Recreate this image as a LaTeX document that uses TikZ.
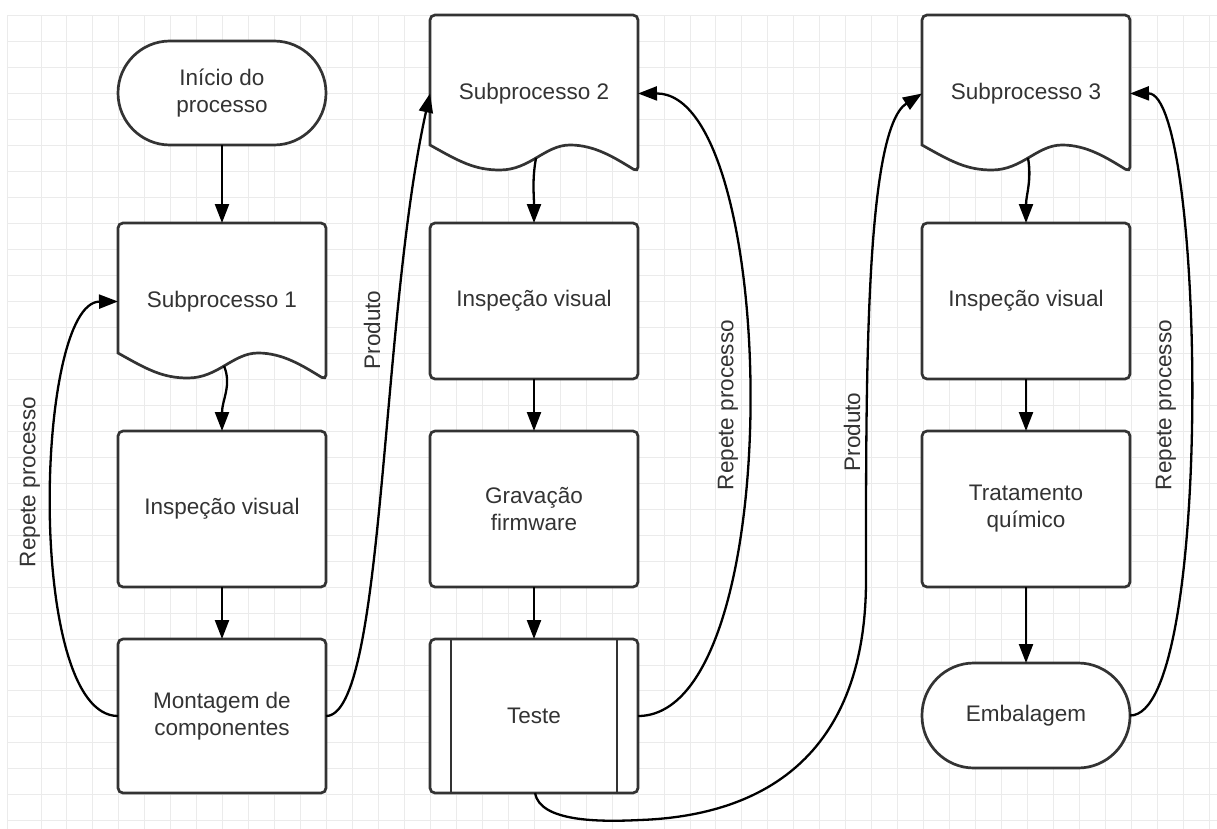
\documentclass[tikz,border=0pt]{standalone}
\usepackage{fontspec}
\setmainfont{Liberation Sans}
\usetikzlibrary{arrows.meta}
\definecolor{gridc}{HTML}{EBEBEB}
\definecolor{boxc}{HTML}{333333}
\definecolor{txtc}{HTML}{333333}
\newcommand{\docnode}[4]{%
  \draw[box] (#2,#3+130) [rounded corners=5pt] -- (#2,#3) -- (#2+208,#3) -- (#2+208,#3+157) [sharp corners]
    .. controls (#2+185,#3+143) and (#2+165,#3+130) .. (#2+140,#3+130)
    .. controls (#2+115,#3+130) and (#2+100,#3+155) .. (#2+70,#3+155)
    .. controls (#2+45,#3+155) and (#2+30,#3+147) .. (#2,#3+130) -- cycle;
  \node[txt, minimum width=208pt, minimum height=157pt, anchor=north west] (#1) at (#2,#3) {#4};
  \coordinate (#1b) at (#2+106,#3+143);
}
\tikzset{
  box/.style={draw=boxc, line width=2.7pt, fill=white, rounded corners=5pt},
  txt/.style={text=txtc, font=\fontsize{22.5}{27}\selectfont, align=center, outer sep=0pt, inner sep=0pt},
  rbox/.style={box, txt, minimum width=208pt, minimum height=156pt},
  term/.style={draw=boxc, line width=2.7pt, fill=white, rounded corners=52pt, txt, minimum width=208pt, minimum height=104pt},
  conn/.style={draw=black, line width=2.3pt, -{Triangle[length=19pt,width=14pt]}},
  lbl/.style={txt, rotate=90},
  gridl/.style={draw=gridc, line width=1pt}
}
\begin{document}
\begin{tikzpicture}[x=1pt,y=-1pt]
\fill[white] (0,0) rectangle (1217,829);
\useasboundingbox (0,0) rectangle (1217,829);
% grid
\draw[gridl] (7,16) -- (7,829);
\foreach \i in {0,...,45} \draw[gridl] ({41+25.96*\i},16) -- ({41+25.96*\i},829);
\foreach \j in {0,...,31} \draw[gridl] (7,{16+25.96*\j}) -- (1217,{16+25.96*\j});

% column 1
\node[term] (start) at (222,93) {Início do\\processo};
\docnode{sub1}{118}{223}{Subprocesso 1}
\node[rbox] (insp1) at (222,509) {Inspeção visual};
\node[rbox, minimum height=154pt] (mont) at (222,716) {Montagem de\\componentes};

% column 2
\docnode{sub2}{430}{15}{Subprocesso 2}
\node[rbox] (insp2) at (534,301) {Inspeção visual};
\node[rbox] (grav) at (534,509) {Gravação\\firmware};
\node[rbox, minimum height=154pt] (teste) at (534,716) {Teste};
\draw[draw=boxc, line width=2.7pt] ([xshift=21pt]teste.north west) -- ([xshift=21pt]teste.south west);
\draw[draw=boxc, line width=2.7pt] ([xshift=-21pt]teste.north east) -- ([xshift=-21pt]teste.south east);

% column 3
\docnode{sub3}{922}{15}{Subprocesso 3}
\node[rbox] (insp3) at (1026,301) {Inspeção visual};
\node[rbox] (trat) at (1026,509) {Tratamento\\químico};
\node[term, minimum height=105pt] (emb) at (1026,715.5) {Embalagem};

% straight connectors
\draw[conn] (start.south) -- (sub1.north);
\draw[conn] (sub1b) .. controls (232,385) and (222,400) .. (insp1.north);
\draw[conn] (insp1.south) -- (mont.north);
\draw[conn] (sub2b) .. controls (532,180) and (534,195) .. (insp2.north);
\draw[conn] (insp2.south) -- (grav.north);
\draw[conn] (grav.south) -- (teste.north);
\draw[conn] (sub3b) .. controls (1032,180) and (1026,195) .. (insp3.north);
\draw[conn] (insp3.south) -- (trat.north);
\draw[conn] (trat.south) -- (emb.north);

% curved connectors
\draw[conn] (mont.west) .. controls (25,716) and (35,302) .. (sub1.west);
\draw[conn] (mont.east) .. controls (385,716) and (380,320) .. (sub2.west);
\draw[conn] (teste.east) .. controls (790,716) and (780,93) .. (sub2.east);
\coordinate (tb) at (535,793);
\draw[conn] (tb) .. controls (540,822) and (600,822) .. (640,820)
  .. controls (780,815) and (866,740) .. (866,580)
  .. controls (866,380) and (865,130) .. (sub3.west);
\draw[conn] (emb.east) .. controls (1215,716) and (1205,93) .. (sub3.east);

% labels
\node[lbl] (l1) at (30,482) {Repete processo};
\node[lbl] (l2) at (372,330) {Produto};
\node[lbl] (l3) at (728,405) {Repete processo};
\node[lbl] (l4) at (852,432) {Produto};
\node[lbl] (l5) at (1166,405) {Repete processo};
\end{tikzpicture}
\end{document}
